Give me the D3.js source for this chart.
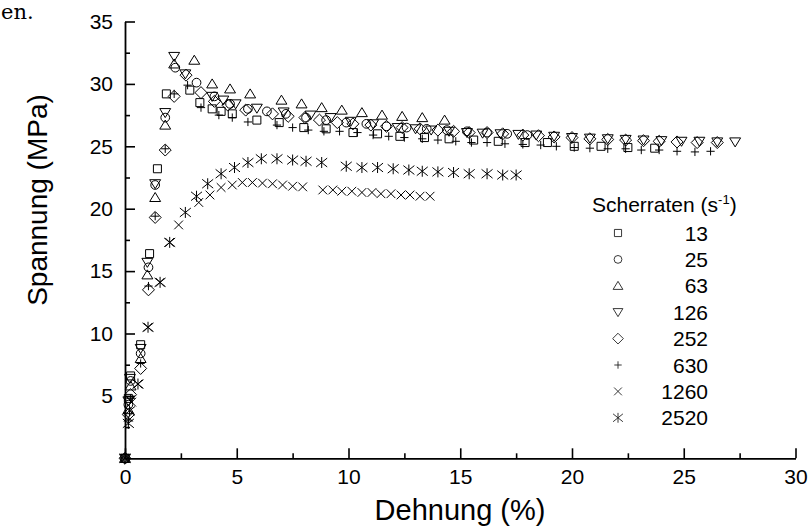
<!DOCTYPE html>
<html>
<head>
<meta charset="utf-8">
<script src="https://cdn.jsdelivr.net/npm/d3@7"></script>
<style>
  html, body { margin: 0; padding: 0; background: #fff; }
  svg { display: block; font-family: "Liberation Sans", Arial, sans-serif; }
</style>
</head>
<body>
<svg id="chart" width="809" height="526"></svg>
<script>
// Scherraten (s^-1) for each measured curve
const rates = ["13", "25", "63", "126", "252", "630", "1260", "2520"];

// Dehnung (%) / Spannung (MPa) pairs per shear rate
const s13 = [[0,0],[0.15,4.8],[0.25,6.6],[0.7,9.1],[1.1,16.4],[1.45,23.2],[1.85,29.2],[2.9,29.5],[3.35,28.5],[3.9,28.0],[4.3,27.8],[4.8,27.6],[5.9,27.1],[6.9,26.9],[8.0,26.5],[9.0,26.4],[10.2,26.1],[11.3,26.0],[12.3,25.8],[13.4,25.7],[14.5,25.6],[15.6,25.5],[16.7,25.4],[17.9,25.3],[18.9,25.3],[20.1,25.0],[21.3,25.0],[22.5,24.9],[23.7,24.85]];
const s25 = [[0,0],[0.15,4.3],[0.25,6.2],[0.7,8.4],[1.05,15.3],[1.35,21.9],[1.8,27.3],[2.25,31.3],[3.2,30.1],[4.0,29.0],[4.7,28.4],[5.5,28.0],[6.35,27.8],[7.2,27.6],[8.1,27.3],[9.0,27.1],[9.9,26.9],[10.8,26.8],[11.7,26.6],[12.6,26.5],[13.5,26.4],[14.4,26.3],[15.3,26.2],[16.2,26.1],[17.1,26.0],[18.0,25.9]];
const s63 = [[0,0],[0.15,3.9],[0.25,5.8],[0.7,8.0],[1.0,14.7],[1.35,20.9],[1.8,26.7],[2.2,31.6],[3.1,31.9],[3.9,30.0],[4.7,29.6],[5.6,29.2],[7.0,28.7],[7.9,28.4],[8.8,28.1],[9.7,27.9],[10.6,27.7],[11.5,27.5],[12.4,27.4],[13.3,27.3],[14.3,27.1]];
const s126 = [[0,0],[0.15,4.6],[0.22,6.4],[0.7,8.8],[1.0,15.7],[1.35,22.0],[1.8,27.7],[2.2,32.2],[2.7,30.8],[3.9,29.0],[4.4,28.7],[4.95,28.4],[5.9,28.05],[7.1,27.75],[8.3,27.5],[9.2,27.3],[10.1,27.0],[11.1,26.8],[12.2,26.5],[13.0,26.4],[13.7,26.3],[14.5,26.2],[15.3,26.1],[16.0,26.05],[16.8,26.0],[17.6,25.95],[18.4,25.9],[19.2,25.8],[20.0,25.7],[20.8,25.65],[21.6,25.6],[22.4,25.55],[23.2,25.5],[24.0,25.45],[24.9,25.4],[25.7,25.4],[26.5,25.35],[27.3,25.35]];
const s252 = [[0,0],[0.15,3.5],[0.25,5.1],[0.7,7.2],[1.05,13.5],[1.35,19.3],[1.8,24.7],[2.2,29.0],[2.73,30.7],[3.4,29.3],[4.0,28.6],[4.6,28.3],[5.4,27.9],[6.6,27.6],[7.3,27.4],[8.05,27.3],[8.7,27.1],[9.5,26.9],[10.2,26.8],[11.0,26.7],[11.7,26.6],[12.4,26.5],[13.2,26.4],[14.0,26.3],[14.7,26.2],[15.4,26.1],[16.2,26.1],[16.9,26.0],[17.8,25.9],[18.5,25.85],[19.2,25.75],[20.0,25.7],[20.8,25.6],[21.6,25.55],[22.4,25.5],[23.2,25.45],[23.9,25.4],[24.7,25.35],[25.6,25.3],[26.5,25.3]];
const s630 = [[0,0],[0.15,3.0],[0.25,4.8],[0.7,7.6],[1.05,13.8],[1.35,19.4],[1.8,24.8],[2.2,29.2],[2.8,29.9],[3.4,28.1],[4.2,27.5],[4.8,27.3],[5.5,26.95],[6.8,26.7],[7.5,26.5],[8.2,26.3],[8.9,26.2],[9.6,26.2],[10.4,26.1],[11.1,25.9],[11.8,25.8],[12.5,25.7],[13.3,25.6],[14.0,25.5],[14.8,25.4],[15.5,25.3],[16.2,25.3],[17.0,25.2],[17.8,25.15],[18.6,25.1],[19.3,25.0],[20.1,24.9],[20.8,24.85],[21.6,24.8],[22.4,24.8],[23.1,24.7],[23.9,24.7],[24.7,24.6],[25.5,24.55],[26.2,24.6]];
const s1260 = [[0,0],[0.15,3.3],[0.3,4.5],[0.58,5.95],[1.03,10.5],[1.57,14.1],[2.0,17.3],[2.4,18.7],[3.3,20.5],[3.8,21.1],[4.3,21.7],[4.8,21.9],[5.25,22.1],[5.7,22.1],[6.15,22.05],[6.6,22.0],[7.05,21.9],[7.5,21.8],[7.95,21.75],[8.85,21.5],[9.3,21.5],[9.7,21.4],[10.15,21.4],[10.6,21.3],[11.05,21.3],[11.45,21.2],[11.9,21.2],[12.35,21.1],[12.75,21.1],[13.2,21.0],[13.65,21.0]];
const s2520 = [[0,0],[0.15,2.8],[0.2,3.8],[0.58,5.95],[1.03,10.5],[1.57,14.1],[2.0,17.3],[2.7,19.7],[3.2,21.0],[3.7,22.0],[4.3,22.8],[4.9,23.3],[5.5,23.7],[6.1,24.0],[6.8,24.0],[7.5,23.9],[8.1,23.8],[8.8,23.7],[9.9,23.4],[10.6,23.3],[11.3,23.3],[12.0,23.2],[12.7,23.1],[13.3,23.0],[14.0,22.95],[14.7,22.9],[15.4,22.8],[16.2,22.8],[16.9,22.7],[17.5,22.7]];

const seriesData = [s13, s25, s63, s126, s252, s630, s1260, s2520];

// axis ticks
const xMajor = [0, 5, 10, 15, 20, 25, 30];
const xMinor = [2.5, 7.5, 12.5, 17.5, 22.5, 27.5];
const yMajor = [5, 10, 15, 20, 25, 30, 35];
const yMinor = [2.5, 7.5, 12.5, 17.5, 22.5, 27.5, 32.5];

const svg = d3.select("#chart");

const x = d3.scaleLinear().domain([0, 30]).range([125, 795.5]);
const y = d3.scaleLinear().domain([0, 35]).range([458.3, 21.5]);

// open marker shapes, r = half width
function shape(drawFn) {
  return { draw(ctx, size) { drawFn(ctx, Math.sqrt(size) / 2); } };
}
const markers = [
  shape((c, r) => { c.rect(-r, -r, 2 * r, 2 * r); }),
  shape((c, r) => { c.moveTo(r, 0); c.arc(0, 0, r, 0, 2 * Math.PI); }),
  shape((c, r) => { c.moveTo(0, -r * 1.05); c.lineTo(r * 1.15, r * 0.85); c.lineTo(-r * 1.15, r * 0.85); c.closePath(); }),
  shape((c, r) => { c.moveTo(0, r * 1.05); c.lineTo(r * 1.15, -r * 0.85); c.lineTo(-r * 1.15, -r * 0.85); c.closePath(); }),
  shape((c, r) => { c.moveTo(0, -r * 1.25); c.lineTo(r * 1.25, 0); c.lineTo(0, r * 1.25); c.lineTo(-r * 1.25, 0); c.closePath(); }),
  shape((c, r) => { c.moveTo(-r, 0); c.lineTo(r, 0); c.moveTo(0, -r); c.lineTo(0, r); }),
  shape((c, r) => { c.moveTo(-r, -r); c.lineTo(r, r); c.moveTo(r, -r); c.lineTo(-r, r); }),
  shape((c, r) => { const a = r * 1.1; c.moveTo(-a, -a * 0.8); c.lineTo(a, a * 0.8); c.moveTo(a, -a * 0.8); c.lineTo(-a, a * 0.8); c.moveTo(0, -a); c.lineTo(0, a); })
];
const markerSize = [64, 76, 90, 90, 92, 68, 76, 100];

// data points
seriesData.forEach((data, i) => {
  const sym = d3.symbol().type(markers[i]).size(markerSize[i]);
  svg.append("g")
    .selectAll("path")
    .data(data)
    .join("path")
    .attr("transform", d => `translate(${x(d[0])},${y(d[1])})`)
    .attr("d", sym)
    .attr("fill", "none")
    .attr("stroke", "#000")
    .attr("stroke-width", 1);
});

// axes with inward ticks
function styleAxis(g) {
  g.select(".domain").attr("stroke", "#000").attr("stroke-width", 1.8);
  g.selectAll(".tick line").attr("stroke", "#000").attr("stroke-width", 1.6);
  g.selectAll("text").attr("font-family", "'Liberation Sans', Arial, sans-serif").attr("font-size", 21).attr("fill", "#000");
}

svg.append("g")
  .attr("transform", "translate(0,458.3)")
  .call(d3.axisBottom(x).tickValues(xMinor).tickSize(-5).tickSizeOuter(0).tickFormat(""))
  .call(g => { styleAxis(g); g.select(".domain").remove(); });
svg.append("g")
  .attr("transform", "translate(125,0)")
  .call(d3.axisLeft(y).tickValues(yMinor).tickSize(-5).tickSizeOuter(0).tickFormat(""))
  .call(g => { styleAxis(g); g.select(".domain").remove(); });

svg.append("g")
  .attr("transform", "translate(0,458.3)")
  .call(d3.axisBottom(x).tickValues(xMajor).tickSize(-10).tickSizeOuter(0).tickPadding(11).tickFormat(d3.format("d")))
  .call(styleAxis);
svg.append("g")
  .attr("transform", "translate(125,0)")
  .call(d3.axisLeft(y).tickValues(yMajor).tickSize(-10).tickSizeOuter(0).tickPadding(12).tickFormat(d3.format("d")))
  .call(styleAxis);

// axis titles
svg.append("text")
  .attr("x", 460).attr("y", 520)
  .attr("text-anchor", "middle")
  .attr("font-size", 29)
  .text("Dehnung (%)");
svg.append("text")
  .attr("transform", "translate(47,200) rotate(-90)")
  .attr("text-anchor", "middle")
  .attr("font-size", 28)
  .text("Spannung (MPa)");

// legend
const legendTitle = svg.append("text")
  .attr("x", 592).attr("y", 212)
  .attr("font-size", 21);
legendTitle.append("tspan").text("Scherraten (s");
legendTitle.append("tspan").attr("font-size", 13).attr("dy", -8).text("-1");
legendTitle.append("tspan").attr("dy", 8).text(")");

const rowY = d3.scaleLinear().domain([0, 1]).range([233, 259.4]);
const legend = svg.append("g");
rates.forEach((label, i) => {
  const sym = d3.symbol().type(markers[i]).size(markerSize[i] * 0.8);
  legend.append("path")
    .attr("transform", `translate(618,${rowY(i)})`)
    .attr("d", sym)
    .attr("fill", "none")
    .attr("stroke", "#222")
    .attr("stroke-width", 0.9);
  legend.append("text")
    .attr("x", 708).attr("y", rowY(i) + 7.5)
    .attr("text-anchor", "end")
    .attr("font-size", 21)
    .text(label);
});

// tail of the surrounding caption line
svg.append("text")
  .attr("x", 1).attr("y", 19)
  .attr("font-family", "'DejaVu Serif', 'Liberation Serif', serif")
  .attr("font-size", 21)
  .text("en.");
</script>
</body>
</html>
